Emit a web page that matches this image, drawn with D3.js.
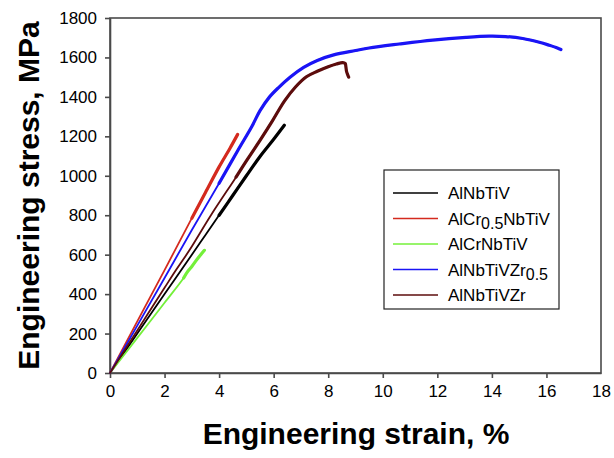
<!DOCTYPE html>
<html><head><meta charset="utf-8">
<script src="https://cdn.jsdelivr.net/npm/d3@7"></script>
<style>body{margin:0;background:#fff;}svg{display:block;font-family:"Liberation Sans",Arial,sans-serif;}</style>
</head><body><svg id="c" width="614" height="458"></svg>
<script>
const xTicks = [0,2,4,6,8,10,12,14,16,18];
const yTicks = [0,200,400,600,800,1000,1200,1400,1600,1800];

const seriesNames = ["AlNbTiV","AlCr0.5NbTiV","AlCrNbTiV","AlNbTiVZr0.5","AlNbTiVZr"];

const strainAlNbTiV = [0,1,2,3,3.5,4,4.5,5,5.5,6,6.39];
const stressAlNbTiV = [0,200,400,600,700,800,900,1000,1098,1185,1256];

const strainAlCr05 = [0,1,2,3,3.5,4,4.4,4.68];
const stressAlCr05 = [0,262,522,785,915,1045,1140,1210];

const strainAlCr = [0,1,2,2.7,2.85,3.0,3.2,3.46];
const stressAlCr = [0,178,356,482,515,540,578,622];

const strainZr05 = [0,1,2,3,4,4.68,5.2,5.5,5.85,6.2,6.6,7.1,7.6,8.2,9.0,9.5,10.6,11.83,13.05,13.9,14.5,15.13,15.74,16.1,16.4,16.53];
const stressZr05 = [0,240,482,725,962,1127,1250,1330,1400,1450,1500,1550,1585,1613,1635,1648,1668,1688,1702,1708,1706,1696,1677,1662,1648,1640];

const strainZr = [0,1,2,2.42,2.91,3.7,4.62,5.0,5.5,5.96,6.4,6.8,7.2,7.6,8.0,8.3,8.53,8.62,8.65,8.67,8.72,8.75];
const stressZr = [0,216,432,522,622,800,993,1075,1180,1280,1380,1450,1502,1530,1553,1567,1574,1570,1550,1530,1510,1500];

const strains = [strainAlNbTiV,strainAlCr05,strainAlCr,strainZr05,strainZr];
const stresses = [stressAlNbTiV,stressAlCr05,stressAlCr,stressZr05,stressZr];

// styling
const colors = ["#000000","#d42a1e","#74f03a","#1a14f5","#5c0c0c"];
const noisyFrom = [780,780,470,780,980];

const svg = d3.select("#c");
const W=614,H=458;
const m = {left:110, right:13, top:18, bottom:85};
const x = d3.scaleLinear().domain([0,18]).range([m.left, W-m.right]);
const y = d3.scaleLinear().domain([0,1800]).range([H-m.bottom, m.top]);

const axisColor = "#4a4a4a";

svg.append("rect").attr("x",x(0)).attr("y",y(1800)).attr("width",x(18)-x(0)).attr("height",y(0)-y(1800))
  .attr("fill","none").attr("stroke",axisColor).attr("stroke-width",1.6);

const xa = svg.append("g").attr("transform",`translate(0,${y(0)})`)
  .call(d3.axisBottom(x).tickValues(xTicks).tickFormat(d3.format("d")).tickSize(5).tickPadding(7).tickSizeOuter(0));
const ya = svg.append("g").attr("transform",`translate(${x(0)},0)`)
  .call(d3.axisLeft(y).tickValues(yTicks).tickFormat(d3.format("d")).tickSize(5).tickPadding(8).tickSizeOuter(0));
[xa,ya].forEach(a=>{
  a.select(".domain").attr("stroke",axisColor).attr("stroke-width",1.6);
  a.selectAll(".tick line").attr("stroke",axisColor).attr("stroke-width",1.6);
  a.selectAll(".tick text").attr("fill","#000").style("font-size","17px").style("font-family","'Liberation Sans',Arial,sans-serif");
});
xa.selectAll(".tick").filter(d=>d===18).select("line").remove();

const lineCR = d3.line().x(d=>x(d[0])).y(d=>y(d[1])).curve(d3.curveCatmullRom.alpha(0.5));

strains.forEach((sx,i)=>{
  const pts = sx.map((v,j)=>[v,stresses[i][j]]);
  svg.append("path").attr("d",lineCR(pts)).attr("fill","none").attr("stroke",colors[i])
    .attr("stroke-width",1.8).attr("stroke-linejoin","round").attr("stroke-linecap","round");
  const hi = pts.filter(p=>p[1]>=noisyFrom[i]);
  svg.append("path").attr("d",lineCR(hi)).attr("fill","none").attr("stroke",colors[i])
    .attr("stroke-width",3.2).attr("stroke-linejoin","round").attr("stroke-linecap","round");
});

const lg = svg.append("g");
lg.append("rect").attr("x",384).attr("y",170).attr("width",175).attr("height",139)
  .attr("fill","#fff").attr("stroke","#222").attr("stroke-width",1.2);
const labelParts = [["AlNbTiV"],["AlCr","0.5","NbTiV"],["AlCrNbTiV"],["AlNbTiVZr","0.5"],["AlNbTiVZr"]];
seriesNames.forEach((nm,i)=>{
  const yy = 193 + i*25.5;
  lg.append("line").attr("x1",393).attr("x2",438).attr("y1",yy).attr("y2",yy)
    .attr("stroke",colors[i]).attr("stroke-width",1.6);
  const t = lg.append("text").attr("x",448).attr("y",yy+6).style("font-size","17px").attr("fill","#000");
  const parts = labelParts[i];
  t.append("tspan").text(parts[0]);
  if(parts.length>1){
    t.append("tspan").attr("dy",4).style("font-size","16px").text(parts[1]);
    if(parts[2]) t.append("tspan").attr("dy",-4).text(parts[2]);
  }
});

svg.append("text").attr("x",356).attr("y",444).attr("text-anchor","middle")
  .style("font-size","30px").style("font-weight","bold").text("Engineering strain, %");
svg.append("text").attr("transform",`translate(39,${(y(0)+y(1800))/2}) rotate(-90)`).attr("text-anchor","middle")
  .style("font-size","30px").style("font-weight","bold").text("Engineering stress, MPa");
</script></body></html>
